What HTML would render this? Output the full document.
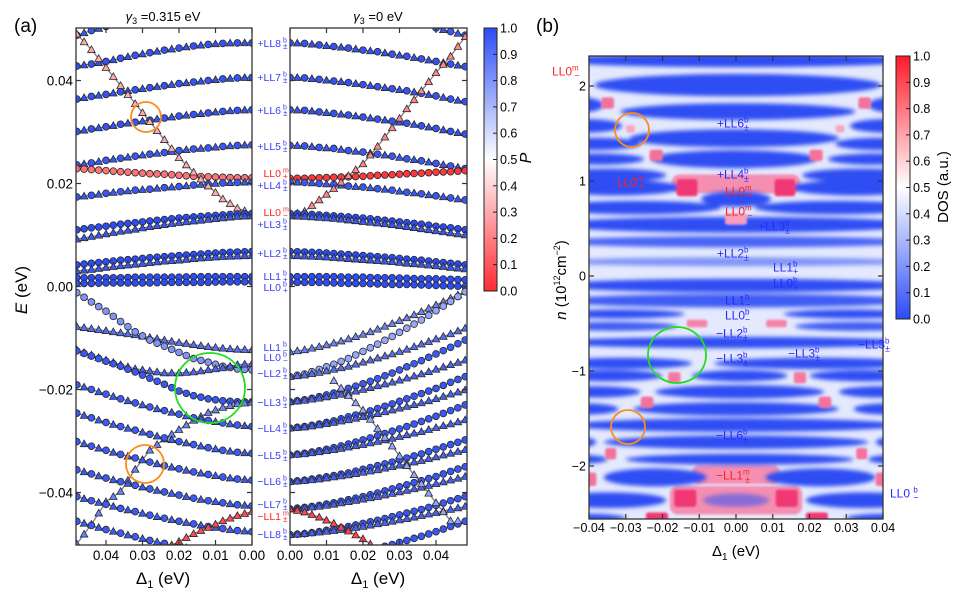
<!DOCTYPE html>
<html><head><meta charset="utf-8"><title>Landau level spectra and DOS</title>
<style>
html,body{margin:0;padding:0;background:#fff;}
svg{display:block;font-family:"Liberation Sans",Arial,sans-serif;}
</style></head>
<body>
<svg id="fig" width="969" height="599" viewBox="0 0 969 599" xmlns="http://www.w3.org/2000/svg">
<defs>
  <linearGradient id="cmapP" x1="0" y1="1" x2="0" y2="0">
    <stop offset="0" stop-color="#ff2a33"/><stop offset="0.5" stop-color="#ffffff"/><stop offset="1" stop-color="#2b4cf6"/>
  </linearGradient>
  <linearGradient id="cmapDOS" x1="0" y1="1" x2="0" y2="0">
    <stop offset="0" stop-color="#2b4cf6"/><stop offset="0.5" stop-color="#ffffff"/><stop offset="1" stop-color="#ff1a2a"/>
  </linearGradient>
  <clipPath id="clipAL"><rect x="76" y="28" width="176" height="517"/></clipPath>
  <clipPath id="clipAR"><rect x="290" y="28" width="177" height="517"/></clipPath>
  <clipPath id="clipB"><rect x="589" y="56" width="294" height="463"/></clipPath>
  <filter id="blurB" x="-20%" y="-50%" width="140%" height="200%"><feGaussianBlur stdDeviation="2.2"/></filter>
  <filter id="blurP" x="-50%" y="-50%" width="200%" height="200%"><feGaussianBlur stdDeviation="1.1"/></filter>
</defs>

<text x="14" y="32" font-size="19">(a)</text>
<text x="536" y="32" font-size="19">(b)</text>

<text x="163" y="21" font-size="13" text-anchor="middle"><tspan font-style="italic">γ</tspan><tspan font-size="9" dy="3">3</tspan><tspan dy="-3"> =0.315 eV</tspan></text>
<text x="378" y="21" font-size="13" text-anchor="middle"><tspan font-style="italic">γ</tspan><tspan font-size="9" dy="3">3</tspan><tspan dy="-3"> =0 eV</tspan></text>

<g id="aLeft" clip-path="url(#clipAL)"></g>
<g id="aRight" clip-path="url(#clipAR)"></g>
<rect x="76" y="28" width="176" height="517" fill="none" stroke="#333" stroke-width="1.3"/>
<rect x="290" y="28" width="177" height="517" fill="none" stroke="#333" stroke-width="1.3"/>
<g id="aAxes"></g>

<text transform="translate(27,290) rotate(-90)" font-size="17" text-anchor="middle"><tspan font-style="italic">E</tspan> (eV)</text>
<text x="163" y="584" font-size="17" text-anchor="middle">Δ<tspan font-size="11" dy="4">1</tspan><tspan dy="-4">  (eV)</tspan></text>
<text x="378" y="584" font-size="17" text-anchor="middle">Δ<tspan font-size="11" dy="4">1</tspan><tspan dy="-4">  (eV)</tspan></text>

<g id="llLabels" font-size="10.5" text-anchor="end"></g>

<rect x="484" y="28" width="13" height="263" fill="url(#cmapP)" stroke="#222" stroke-width="1"/>
<g id="cbA" font-size="12.5"></g>
<text transform="translate(531,158) rotate(-90)" font-size="16" font-style="italic" text-anchor="middle">P</text>

<circle cx="146" cy="117" r="15" fill="none" stroke="#ff8c1a" stroke-width="1.8"/>
<circle cx="145" cy="464" r="19" fill="none" stroke="#ff8c1a" stroke-width="1.8"/>
<circle cx="210" cy="388" r="35" fill="none" stroke="#22dd22" stroke-width="1.8"/>

<g clip-path="url(#clipB)">
  <rect x="589" y="56" width="294" height="463" fill="#e4e9fd"/>
  <g id="bPink" filter="url(#blurP)"></g>
  <g id="bBlue" filter="url(#blurB)"></g>
  <g id="bSpots" filter="url(#blurP)"></g>
</g>
<rect x="589" y="56" width="294" height="463" fill="none" stroke="#333" stroke-width="1.3"/>
<g id="bAxes"></g>
<text x="736" y="556" font-size="15" text-anchor="middle">Δ<tspan font-size="10" dy="4">1</tspan><tspan dy="-4"> (eV)</tspan></text>
<text transform="translate(566,280) rotate(-90)" font-size="15" text-anchor="middle"><tspan font-style="italic">n</tspan> (10<tspan font-size="9" dy="-6">12</tspan><tspan dy="6">cm</tspan><tspan font-size="9" dy="-6">−2</tspan><tspan dy="6">)</tspan></text>

<rect x="896" y="56" width="14" height="263" fill="url(#cmapDOS)" stroke="#222" stroke-width="1"/>
<g id="cbB" font-size="12.5"></g>
<text transform="translate(948,187) rotate(-90)" font-size="15" text-anchor="middle">DOS (a.u.)</text>

<g id="bLabels" font-size="12"></g>

<circle cx="632" cy="130" r="17" fill="none" stroke="#ff8c1a" stroke-width="1.8"/>
<circle cx="628" cy="427" r="17" fill="none" stroke="#ff8c1a" stroke-width="1.8"/>
<ellipse cx="677" cy="355" rx="29" ry="28" fill="none" stroke="#22dd22" stroke-width="1.8"/>
</svg>

<script>
// ---------------- Panel (a) data ----------------
const deltaGrid = [0,0.004,0.008,0.012,0.016,0.020,0.024,0.028,0.032,0.036,0.040,0.044,0.048];

const lPlusLL9 = [null,null,null,null,null,null,null,null,null,null,0.0505,0.0497,0.0488];
const lPlusLL8 = [0.0473,0.0473,0.0472,0.047,0.0467,0.0463,0.0459,0.0454,0.0449,0.0443,0.0437,0.0432,0.0428];
const lPlusLL7 = [0.0406,0.0405,0.0403,0.04,0.0397,0.0394,0.039,0.0386,0.0382,0.0378,0.0373,0.0369,0.0364];
const lPlusLL6 = [0.0343,0.0342,0.034,0.0337,0.0334,0.0331,0.0327,0.0323,0.0319,0.0315,0.031,0.0306,0.0301];
const lPlusLL5 = [0.0275,0.0274,0.0272,0.0269,0.0267,0.0264,0.026,0.0257,0.0253,0.0249,0.0245,0.024,0.0236];
const lLL0mPlus = [0.0211,0.0211,0.0212,0.0213,0.0214,0.0216,0.0218,0.0219,0.0221,0.0223,0.0225,0.0227,0.0229];
const lPlusLL4 = [0.0203,0.0202,0.0201,0.0199,0.0197,0.0194,0.0192,0.0189,0.0187,0.0184,0.0181,0.0177,0.0174];
const lLL0mMinus = [0.0142,0.0152,0.017,0.0195,0.0222,0.025,0.0285,0.032,0.0355,0.039,0.0425,0.046,0.049];
const lPlusLL3c = [0.0142,0.0141,0.0139,0.0137,0.0135,0.0133,0.013,0.0127,0.0124,0.0121,0.0117,0.0114,0.011];
const lPlusLL3t = [0.0137,0.0136,0.0133,0.013,0.0127,0.0124,0.012,0.0116,0.0111,0.0107,0.0102,0.0097,0.0092];
const lPlusLL2c = [0.0068,0.0067,0.0066,0.0064,0.0062,0.006,0.0058,0.0056,0.0053,0.0051,0.0048,0.0045,0.0042];
const lPlusLL2t = [0.006,0.0059,0.0058,0.0056,0.0054,0.0051,0.0049,0.0046,0.0043,0.004,0.0037,0.0033,0.003];
const lLL1plus = [0.0019,0.0019,0.0019,0.0019,0.0019,0.0018,0.0018,0.0018,0.0018,0.0017,0.0017,0.0017,0.0017];
const lLL0plus = [0.0009,0.0009,0.0009,0.0008,0.0008,0.0008,0.0008,0.0007,0.0007,0.0007,0.0007,0.0006,0.0006];
const lLL1minus = [-0.0123,-0.0122,-0.012,-0.0117,-0.0113,-0.0109,-0.0104,-0.0099,-0.0094,-0.009,-0.0086,-0.0082,-0.0078];
const lLL0minus = [-0.0162,-0.016,-0.0155,-0.0147,-0.014,-0.0128,-0.0116,-0.0104,-0.0088,-0.0068,-0.0048,-0.003,-0.0012];
const lMinusLL2 = [-0.015,-0.0152,-0.0158,-0.0162,-0.0166,-0.0168,-0.0168,-0.0164,-0.016,-0.0152,-0.0143,-0.0133,-0.0123];
const lMinusLL3c = [-0.0224,-0.0224,-0.0222,-0.0218,-0.0212,-0.0203,-0.019,-0.0178,-0.0166,-0.0155,-0.0145,-0.0135,-0.0125];
const lMinusLL3t = [-0.0225,-0.0228,-0.0235,-0.0245,-0.026,-0.0278,-0.0296,-0.0318,-0.0355,-0.0398,-0.0418,-0.0462,-0.050];
const lMinusLL4 = [-0.0272,-0.0269,-0.0265,-0.026,-0.0255,-0.0248,-0.0241,-0.0234,-0.0226,-0.0218,-0.0209,-0.02,-0.0191];
const lMinusLL5 = [-0.0324,-0.0322,-0.0318,-0.0313,-0.0307,-0.0301,-0.0294,-0.0287,-0.0279,-0.0272,-0.0264,-0.0255,-0.0246];
const lMinusLL6 = [-0.0376,-0.0374,-0.037,-0.0365,-0.036,-0.0354,-0.0348,-0.0341,-0.0333,-0.0326,-0.0318,-0.031,-0.0301];
const lMinusLL7 = [-0.0426,-0.0424,-0.042,-0.0416,-0.0411,-0.0405,-0.0399,-0.0393,-0.0386,-0.0379,-0.0372,-0.0364,-0.0356];
const lMinusLL8 = [-0.0476,-0.0474,-0.047,-0.0466,-0.0461,-0.0456,-0.045,-0.0444,-0.0437,-0.0431,-0.0423,-0.0416,-0.0408];
const lMinusLL9 = [-0.0525,-0.0523,-0.0519,-0.0515,-0.051,-0.0505,-0.0499,-0.0493,-0.0486,-0.0479,-0.0472,-0.0464,-0.0456];
const lMinusLL1m = [-0.0437,-0.0445,-0.0455,-0.0468,-0.048,-0.0495,-0.051,null,null,null,null,null,null];

const rPlusLL9 = [null,null,null,null,null,null,null,null,null,null,0.0502,0.0495,0.0488];
const rPlusLL8 = [0.0473,0.0472,0.0469,0.0466,0.0463,0.0459,0.0456,0.0451,0.0447,0.0442,0.0437,0.0432,0.0427];
const rPlusLL7 = [0.0406,0.0405,0.0402,0.0399,0.0396,0.0392,0.0388,0.0384,0.038,0.0375,0.037,0.0364,0.0359];
const rPlusLL6 = [0.0343,0.0342,0.0339,0.0336,0.0333,0.0329,0.0325,0.0321,0.0317,0.0312,0.0307,0.0301,0.0296];
const rPlusLL5 = [0.0274,0.0273,0.027,0.0268,0.0264,0.0261,0.0257,0.0253,0.0248,0.0244,0.0239,0.0234,0.0229];
const rLL0mPlus = [0.021,0.021,0.0211,0.0212,0.0213,0.0214,0.0216,0.0217,0.0219,0.022,0.0222,0.0223,0.0225];
const rPlusLL4 = [0.0203,0.0202,0.02,0.0198,0.0195,0.0193,0.019,0.0187,0.0183,0.018,0.0176,0.0172,0.0168];
const rLL0mMinus = [0.0138,0.0146,0.0168,0.019,0.0215,0.0238,0.0272,0.0308,0.0345,0.038,0.0415,0.0447,0.0485];
const rPlusLL3c = [0.0142,0.0141,0.0139,0.0137,0.0135,0.0133,0.013,0.0127,0.0124,0.0121,0.0117,0.0114,0.011];
const rPlusLL3t = [0.0137,0.0136,0.0134,0.0132,0.0129,0.0126,0.0123,0.012,0.0116,0.0112,0.0108,0.0104,0.01];
const rPlusLL2c = [0.0068,0.0067,0.0066,0.0064,0.0062,0.006,0.0058,0.0056,0.0053,0.0051,0.0048,0.0045,0.0042];
const rPlusLL2t = [0.006,0.0059,0.0058,0.0056,0.0054,0.0052,0.005,0.0048,0.0045,0.0043,0.004,0.0037,0.0034];
const rLL1plus = [0.0019,0.0019,0.0019,0.0019,0.0018,0.0018,0.0017,0.0017,0.0016,0.0015,0.0015,0.0014,0.0013];
const rLL0plus = [0.0008,0.0008,0.0008,0.0007,0.0006,0.0006,0.0005,0.0004,0.0004,0.0003,0.0002,0.0001,0];
const rT1 = [-0.0127,-0.0123,-0.0117,-0.011,-0.0102,-0.0093,-0.0083,-0.0072,-0.0061,-0.0049,-0.0036,-0.0023,-0.001];
const rC2 = [-0.0175,-0.017,-0.0161,-0.0151,-0.014,-0.0126,-0.0112,-0.0097,-0.0081,-0.0065,-0.0047,-0.0029,-0.001];
const rT2 = [-0.0175,-0.0172,-0.0167,-0.0161,-0.0155,-0.0147,-0.0139,-0.0131,-0.0122,-0.0112,-0.0102,-0.0092,-0.0081];
const rC3 = [-0.0224,-0.022,-0.0214,-0.0207,-0.0198,-0.0189,-0.0179,-0.0168,-0.0156,-0.0144,-0.0131,-0.0118,-0.0104];
const rT3 = [-0.0224,-0.0221,-0.0217,-0.0212,-0.0207,-0.02,-0.0193,-0.0186,-0.0178,-0.017,-0.0161,-0.0152,-0.0143];
const rC4 = [-0.0275,-0.0272,-0.0267,-0.0261,-0.0253,-0.0246,-0.0237,-0.0228,-0.0218,-0.0208,-0.0198,-0.0186,-0.0175];
const rT4 = [-0.0275,-0.0273,-0.0269,-0.0264,-0.0259,-0.0253,-0.0247,-0.024,-0.0233,-0.0226,-0.0218,-0.0209,-0.0201];
const rC5 = [-0.0327,-0.0324,-0.0319,-0.0313,-0.0306,-0.0298,-0.029,-0.0281,-0.0272,-0.0262,-0.0252,-0.0241,-0.023];
const rT5 = [-0.0327,-0.0325,-0.0321,-0.0317,-0.0312,-0.0307,-0.0301,-0.0295,-0.0288,-0.0282,-0.0274,-0.0267,-0.0259];
const rC6 = [-0.0379,-0.0376,-0.0372,-0.0367,-0.0362,-0.0355,-0.0348,-0.0341,-0.0333,-0.0325,-0.0316,-0.0307,-0.0298];
const rT6 = [-0.0379,-0.0377,-0.0374,-0.037,-0.0366,-0.0361,-0.0356,-0.035,-0.0344,-0.0338,-0.0331,-0.0324,-0.0317];
const rC7 = [-0.0432,-0.0429,-0.0425,-0.042,-0.0414,-0.0408,-0.0401,-0.0393,-0.0385,-0.0377,-0.0369,-0.0359,-0.035];
const rT7 = [-0.0432,-0.043,-0.0427,-0.0423,-0.0418,-0.0413,-0.0408,-0.0402,-0.0396,-0.039,-0.0383,-0.0376,-0.0369];
const rC8 = [-0.0482,-0.048,-0.0476,-0.0471,-0.0466,-0.046,-0.0454,-0.0447,-0.044,-0.0433,-0.0425,-0.0416,-0.0408];
const rT8 = [-0.0482,-0.048,-0.0477,-0.0474,-0.047,-0.0466,-0.0461,-0.0456,-0.0451,-0.0445,-0.0439,-0.0433,-0.0427];
const rC9 = [-0.0535,-0.0533,-0.053,-0.0526,-0.0521,-0.0515,-0.0508,-0.0501,-0.0493,-0.0485,-0.0476,-0.0466,-0.0456];
const rMinusLL1m = [-0.0432,-0.0438,-0.0448,-0.046,-0.0475,-0.049,-0.051,null,null,null,null,null,null];
const rDesc = [null,null,null,-0.0183,-0.0212,-0.024,-0.0276,-0.031,-0.0348,-0.0383,-0.042,-0.0455,null];

const leftSeries = [
  [lPlusLL9,'ct',0.97],[lPlusLL8,'ct',0.98],[lPlusLL7,'ct',0.98],[lPlusLL6,'ct',0.98],[lPlusLL5,'ct',0.97],
  [lLL0mPlus,'c',0.17],[lPlusLL4,'ct',0.97],[lLL0mMinus,'t',0.3],[lPlusLL3c,'c',1.0],[lPlusLL3t,'t',0.97],
  [lPlusLL2c,'c',1.0],[lPlusLL2t,'t',0.97],[lLL1plus,'c',1.0],[lLL0plus,'c',1.0],
  [lLL1minus,'t',0.9],[lLL0minus,'c',0.8],[lMinusLL2,'t',0.93],[lMinusLL3c,'c',0.97],[lMinusLL3t,'t',0.85],
  [lMinusLL4,'ct',0.96],[lMinusLL5,'ct',0.96],[lMinusLL6,'ct',0.96],[lMinusLL7,'ct',0.96],[lMinusLL8,'ct',0.96],
  [lMinusLL9,'ct',0.96],[lMinusLL1m,'t',0.08]
];
const rightSeries = [
  [rPlusLL9,'ct',0.97],[rPlusLL8,'ct',0.98],[rPlusLL7,'ct',0.98],[rPlusLL6,'ct',0.98],[rPlusLL5,'ct',0.97],
  [rLL0mPlus,'c',0.03],[rPlusLL4,'ct',0.97],[rLL0mMinus,'t',0.22],[rPlusLL3c,'c',1.0],[rPlusLL3t,'t',0.97],
  [rPlusLL2c,'c',1.0],[rPlusLL2t,'t',0.97],[rLL1plus,'c',1.0],[rLL0plus,'c',1.0],
  [rT1,'t',0.85],[rC2,'c',0.75],[rT2,'t',0.9],[rC3,'c',0.96],[rT3,'t',0.93],[rC4,'c',0.97],[rT4,'t',0.94],
  [rC5,'c',0.97],[rT5,'t',0.94],[rC6,'c',0.97],[rT6,'t',0.94],[rC7,'c',0.97],[rT7,'t',0.94],[rC8,'c',0.97],[rT8,'t',0.94],
  [rC9,'c',0.97],[rMinusLL1m,'t',0.06],[rDesc,'t',0.75]
];

const eTicks = [0.04,0.02,0.00,-0.02,-0.04];
const eTickLabels = ['0.04','0.02','0.00','−0.02','−0.04'];
const dTicksA = [0,0.01,0.02,0.03,0.04];
const dTickLabelsA = ['0.00','0.01','0.02','0.03','0.04'];
const cbTicks = [1.0,0.9,0.8,0.7,0.6,0.5,0.4,0.3,0.2,0.1,0.0];

// ---------------- Panel (b) data ----------------
const gapN    = [2.27,2.01,1.80,1.80,1.73,1.58,1.58,1.45,1.39,1.39,1.23,1.23,1.23,1.06,1.06,0.93,0.93,0.81,0.72,0.72,0.54,0.36,0.15,-0.10,-0.26,-0.40,-0.40,-0.53,-0.53,-0.70,-0.92,-0.92,-1.05,-1.05,-1.05,-1.22,-1.22,-1.22,-1.40,-1.40,-1.40,-1.57,-1.75,-1.75,-1.75,-1.93,-1.93,-1.93,-2.12,-2.12,-2.36,-2.36,-2.36,-2.55,-2.55];
const gapHalf = [0.06,0.10,0.07,0.07,0.075,0.06,0.06,0.08,0.055,0.055,0.08,0.05,0.05,0.06,0.06,0.07,0.07,0.07,0.06,0.06,0.07,0.05,0.04,0.06,0.06,0.04,0.04,0.04,0.04,0.05,0.05,0.05,0.05,0.05,0.05,0.06,0.05,0.05,0.06,0.05,0.05,0.06,0.06,0.05,0.05,0.05,0.04,0.04,0.08,0.08,0.07,0.07,0.06,0.04,0.04];
const gapD0   = [-0.05,-0.0385,-0.05,0.036,-0.0315,-0.05,0.031,-0.029,-0.05,0.027,-0.023,-0.05,0.025,-0.05,0.018,-0.05,0.015,-0.0095,-0.05,0.005,-0.05,-0.05,-0.05,-0.05,-0.05,-0.05,0.013,-0.05,0.016,-0.05,-0.05,-0.006,-0.012,-0.05,0.02,-0.022,-0.05,0.028,-0.028,-0.05,0.032,-0.045,-0.036,-0.05,0.038,-0.030,-0.05,0.036,-0.036,0.008,-0.05,0.019,-0.009,-0.05,0.03];
const gapD1   = [0.05,0.0395,-0.036,0.05,0.0325,-0.031,0.05,0.028,-0.026,0.05,0.022,-0.025,0.05,-0.019,0.05,-0.015,0.05,0.0095,-0.004,0.05,0.05,0.05,0.05,0.05,0.05,-0.014,0.05,-0.016,0.05,0.05,-0.012,0.05,0.014,-0.02,0.05,0.024,-0.026,0.05,0.028,-0.032,0.05,0.045,0.036,-0.038,0.05,0.032,-0.035,0.05,-0.008,0.038,-0.019,0.05,0.009,-0.03,0.05];
const gapAlpha= [1,1,1,1,1,1,1,1,1,1,1,1,1,1,1,1,1,1,1,1,1,0.85,0.55,1,0.9,1,1,0.9,0.9,1,1,1,1,1,1,1,1,1,1,1,1,1,1,1,1,1,1,1,1,1,1,1,0.55,1,1];
const spotN = [1.82,1.82,1.55,1.55,1.27,1.27,0.93,0.93,0.60,-0.50,-0.50,-1.07,-1.07,-1.33,-1.33,-1.87,-1.87,-2.14,-2.14,-2.34,-2.34,-2.54,-2.54];
const spotD = [-0.0349,0.035,-0.0287,0.0283,-0.0217,0.0218,-0.0133,0.0133,0,-0.0106,0.011,-0.0168,0.0174,-0.0242,0.0242,-0.0341,0.0342,-0.0395,0.0395,-0.0138,0.0138,-0.0215,0.022];
const spotW = [0.0017,0.0017,0.0012,0.0012,0.0018,0.0018,0.0028,0.0028,0.003,0.0028,0.0028,0.0017,0.0017,0.0017,0.0017,0.0015,0.0015,0.0015,0.0015,0.003,0.003,0.003,0.003];
const spotH = [0.06,0.06,0.04,0.04,0.06,0.06,0.09,0.09,0.06,0.04,0.04,0.06,0.06,0.06,0.06,0.06,0.06,0.07,0.07,0.09,0.09,0.05,0.05];
const spotI = [0.72,0.72,0.6,0.6,0.72,0.72,0.88,0.88,0.62,0.68,0.68,0.7,0.7,0.72,0.72,0.72,0.72,0.72,0.72,0.92,0.92,0.9,0.9];
const pinkN  = [0.97,-2.09,-2.36];
const pinkH  = [0.10,0.10,0.15];
const pinkD0 = [-0.0175,-0.012,-0.018];
const pinkD1 = [0.0175,0.012,0.018];
const nTicks = [2,1,0,-1,-2];
const nTickLabels = ['2','1','0','−1','−2'];
const dTicksB = [-0.04,-0.03,-0.02,-0.01,0,0.01,0.02,0.03,0.04];
const dTickLabelsB = ['−0.04','−0.03','−0.02','−0.01','0.00','0.01','0.02','0.03','0.04'];

// ---------------- scales ----------------
const NS = 'http://www.w3.org/2000/svg';
const aY = e => 286.5 - e * 5150;
const aLX = d => 252 - d * 3650;
const aRX = d => 290 + d * 3650;
const bX = d => 736 + d * 3675;
const bY = n => 276 - n * 95;

function mk(tag, attrs, parent){
  const el = document.createElementNS(NS, tag);
  for (const k in attrs) el.setAttribute(k, attrs[k]);
  parent.appendChild(el);
  return el;
}
function pColor(p){
  const blue=[43,76,246], red=[255,42,51], w=[255,255,255];
  let c;
  if (p >= 0.5){ const t=(p-0.5)/0.5; c=w.map((v,i)=>Math.round(v+(blue[i]-v)*t)); }
  else { const t=(0.5-p)/0.5; c=w.map((v,i)=>Math.round(v+(red[i]-v)*t)); }
  return 'rgb('+c.join(',')+')';
}
function drawTri(g, x, y, fill){
  const s=3.8;
  const el = mk('polygon',{points:(x)+','+(y-s)+' '+(x-s)+','+(y+s*0.75)+' '+(x+s)+','+(y+s*0.75),fill:fill,stroke:'#2a2a2a','stroke-width':0.8},g);
  
  
}
function drawCirc(g, x, y, fill){
  const el = mk('circle',{cx:x,cy:y,r:3.4,fill:fill,stroke:'#2a2a2a','stroke-width':0.8},g);
  
  
}
function drawSeries(g, series, xs){
  series.forEach((s, si) => {
    const vals = s[0], type = s[1], col = pColor(s[2]);
    const sg = mk('g',{},g);
    
    
    let pts = [];
    vals.forEach((v,i)=>{ if (v!==null) pts.push(xs(deltaGrid[i])+','+aY(v)); });
    const pl = mk('polyline',{points:pts.join(' '),fill:'none',stroke:'#3a3a44','stroke-width':1.2,opacity:0.7},sg);
    
    
    vals.forEach((v,i)=>{
      if (v===null) return;
      const d = deltaGrid[i];
      const x = xs(d), y = aY(v);
      const x2 = xs(d + 0.002);
      const y2 = y + (i+1<vals.length && vals[i+1]!==null ? (aY(vals[i+1])-y)/2 : 0);
      if (type==='c') { drawCirc(sg,x,y,col); drawCirc(sg,x2,y2,col); }
      else if (type==='t') { drawTri(sg,x,y,col); drawTri(sg,x2,y2,col); }
      else { drawCirc(sg,x,y,col); drawTri(sg,x2,y2,col); }
    });
  });
}
drawSeries(document.getElementById('aLeft'), leftSeries, aLX);
drawSeries(document.getElementById('aRight'), rightSeries, aRX);

const ax = document.getElementById('aAxes');
eTicks.forEach((e,i)=>{
  const y = aY(e);
  [[76,81],[247,252],[290,295],[462,467]].forEach(p=>{
    const t = mk('line',{x1:p[0],x2:p[1],y1:y,y2:y,stroke:'#333','stroke-width':1.2},ax);
    
    
  });
  const lb = mk('text',{x:73,y:y+5,'font-size':13.5,'text-anchor':'end'},ax);
  lb.textContent = eTickLabels[i];
  
  
});
dTicksA.forEach((d,i)=>{
  [aLX(d), aRX(d)].forEach(x=>{
    const t1 = mk('line',{x1:x,x2:x,y1:28,y2:33,stroke:'#333','stroke-width':1.2},ax);
    
    
    const t2 = mk('line',{x1:x,x2:x,y1:540,y2:545,stroke:'#333','stroke-width':1.2},ax);
    
    
    const lb = mk('text',{x:x,y:560,'font-size':13.5,'text-anchor':'middle'},ax);
    lb.textContent = dTickLabelsA[i];
    
    
  });
});

function cbar(gid, x0, x1, top, bot){
  const g = document.getElementById(gid);
  cbTicks.forEach(v=>{
    const y = bot - v*(bot-top);
    const t = mk('line',{x1:x1-4,x2:x1,y1:y,y2:y,stroke:'#222','stroke-width':1},g);
    
    
    const lb = mk('text',{x:x1+3,y:y+4.5},g);
    lb.textContent = v.toFixed(1);
    
    
  });
}
cbar('cbA',484,497,28,291);
cbar('cbB',896,910,56,319);

const llLab = [
  ['+LL8','b','±',43,'#3a3aff'],['+LL7','b','±',77,'#3a3aff'],['+LL6','b','±',110,'#3a3aff'],['+LL5','b','±',146,'#3a3aff'],
  ['LL0','m','+',173,'#ff2222'],['+LL4','b','±',185,'#3a3aff'],['LL0','m','−',212,'#ff2222'],['+LL3','b','±',224,'#3a3aff'],
  ['+LL2','b','±',253,'#3a3aff'],['LL1','b','+',276,'#3a3aff'],['LL0','b','+',287,'#3a3aff'],
  ['LL1','b','−',347,'#3a3aff'],['LL0','b','−',357,'#3a3aff'],['−LL2','b','±',373,'#3a3aff'],['−LL3','b','±',402,'#3a3aff'],
  ['−LL4','b','±',428,'#3a3aff'],['−LL5','b','±',455,'#3a3aff'],['−LL6','b','±',481,'#3a3aff'],['−LL7','b','±',504,'#3a3aff'],
  ['−LL1','m','±',516,'#ff2222'],['−LL8','b','±',534,'#3a3aff']
];
const llg = document.getElementById('llLabels');
llLab.forEach(l=>{
  const t = mk('text',{x:281,y:l[3]+4,fill:l[4]},llg);
  t.textContent = l[0];
  
  
  const s1 = mk('text',{x:283,y:l[3]-0.5,fill:l[4],'font-size':7,'text-anchor':'start'},llg);
  s1.textContent = l[1];
  
  
  const s2 = mk('text',{x:283,y:l[3]+6,fill:l[4],'font-size':8,'text-anchor':'start'},llg);
  s2.textContent = l[2];
  
  
});

// ---------------- heatmap ----------------
const gp = document.getElementById('bPink');
pinkN.forEach((n,i)=>{
  const x0=bX(pinkD0[i]), x1=bX(pinkD1[i]), y0=bY(n+pinkH[i]), y1=bY(n-pinkH[i]);
  const r = mk('rect',{x:x0,y:y0,width:x1-x0,height:y1-y0,rx:8,fill:'#f58fb2'},gp);
  
  
});
const gb = document.getElementById('bBlue');
gapN.forEach((n,i)=>{
  const x0=bX(gapD0[i]), x1=bX(gapD1[i]);
  const cy=bY(n), ry=gapHalf[i]*95*1.18;
  const e = mk('ellipse',{cx:(x0+x1)/2,cy:cy,rx:(x1-x0)/2,ry:ry,fill:'#2e4ef3','fill-opacity':gapAlpha[i]},gb);
  
  
});
const gs = document.getElementById('bSpots');
spotN.forEach((n,i)=>{
  const cx=bX(spotD[i]), cy=bY(n), rx=spotW[i]*3675, ry=spotH[i]*95;
  const t = Math.min(1, Math.max(0, (spotI[i]-0.4)/0.45));
  const e = mk('rect',{x:cx-rx,y:cy-ry,width:2*rx,height:2*ry,rx:2.5},gs);
  e.setAttribute('fill', 'rgb(' + [Math.round(255-15*t), Math.round(255-200*t), Math.round(255-140*t)].join(',') + ')');
  
  
});

const bx = document.getElementById('bAxes');
nTicks.forEach((n,i)=>{
  const y=bY(n);
  const t1 = mk('line',{x1:589,x2:594,y1:y,y2:y,stroke:'#333','stroke-width':1.2},bx);
  
  
  const t2 = mk('line',{x1:878,x2:883,y1:y,y2:y,stroke:'#333','stroke-width':1.2},bx);
  
  
  const lb = mk('text',{x:586,y:y+4.5,'font-size':12.5,'text-anchor':'end'},bx);
  lb.textContent = nTickLabels[i];
  
  
});
dTicksB.forEach((d,i)=>{
  const x=bX(d);
  const t1 = mk('line',{x1:x,x2:x,y1:56,y2:61,stroke:'#333','stroke-width':1.2},bx);
  
  
  const t2 = mk('line',{x1:x,x2:x,y1:514,y2:519,stroke:'#333','stroke-width':1.2},bx);
  
  
  const lb = mk('text',{x:x,y:532,'font-size':12.5,'text-anchor':'middle'},bx);
  lb.textContent = dTickLabelsB[i];
  
  
});

const bLab = [
  ['LL0','m','−',552,71,'#ff2222'],['+LL6','b','±',717,123,'#2a2aff'],['LL0','m','+',617,182,'#ff2222'],
  ['+LL4','b','±',717,174,'#2a2aff'],['LL0','m','+',725,191,'#ff2222'],['LL0','m','−',725,211,'#ff2222'],
  ['+LL3','b','±',758,226,'#2a2aff'],['+LL2','b','±',717,253,'#2a2aff'],['LL1','b','+',773,267,'#2a2aff'],
  ['LL0','b','+',773,283,'#2a2aff'],['LL1','b','−',725,300,'#2a2aff'],['LL0','b','−',725,315,'#2a2aff'],
  ['−LL2','b','±',716,333,'#2a2aff'],['−LL3','b','±',716,358,'#2a2aff'],['−LL3','b','±',788,353,'#2a2aff'],
  ['−LL3','b','±',858,344,'#2a2aff'],['−LL6','b','±',716,435,'#2a2aff'],['−LL1','m','±',716,475,'#ff2222'],
  ['LL0 ','b','−',890,493,'#2a2aff']
];
const blg = document.getElementById('bLabels');
bLab.forEach(l=>{
  const t = mk('text',{x:l[3],y:l[4]+4.5,fill:l[5]},blg);
  t.textContent = l[0];
  const s1 = mk('tspan',{dy:-5,'font-size':8},t);
  s1.textContent = l[1];
  const s2 = mk('tspan',{dx:-4.5,dy:8,'font-size':9},t);
  s2.textContent = l[2];
  
  
});
</script>
</body></html>
